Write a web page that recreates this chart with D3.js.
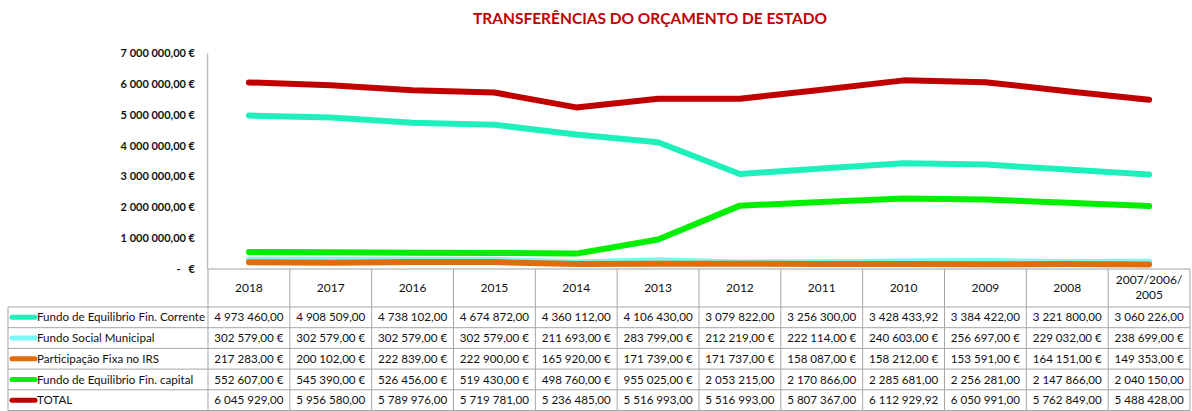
<!DOCTYPE html>
<html>
<head>
<meta charset="utf-8">
<script src="https://cdn.jsdelivr.net/npm/d3@7"></script>
<style>
  body { margin: 0; background: #fff; }
  text { font-family: Lato, "Open Sans", sans-serif; }
</style>
</head>
<body>
<div class="chart"></div>
<script>
const years = ["2018", "2017", "2016", "2015", "2014", "2013", "2012", "2011", "2010", "2009", "2008", "2007/2006/ 2005"];

const seriesNames = ["Fundo de Equilibrio Fin. Corrente", "Fundo Social Municipal", "Participação Fixa no IRS", "Fundo de Equilibrio Fin. capital", "TOTAL"];
const seriesColors = ["#1ef0bc", "#7af7f7", "#e36c0a", "#00f000", "#c00000"];

const fefCorrente = [4973460, 4908509, 4738102, 4674872, 4360112, 4106430, 3079822, 3256300, 3428433.92, 3384422, 3221800, 3060226];
const fundoSocial = [302579, 302579, 302579, 302579, 211693, 283799, 212219, 222114, 240603, 256697, 229032, 238699];
const participacaoIRS = [217283, 200102, 222839, 222900, 165920, 171739, 171737, 158087, 158212, 153591, 164151, 149353];
const fefCapital = [552607, 545390, 526456, 519430, 498760, 955025, 2053215, 2170866, 2285681, 2256281, 2147866, 2040150];
const total = [6045929, 5956580, 5789976, 5719781, 5236485, 5516993, 5516993, 5807367, 6112929.92, 6050991, 5762849, 5488428];

const yTicks = [0, 1000000, 2000000, 3000000, 4000000, 5000000, 6000000, 7000000];

const series = [fefCorrente, fundoSocial, participacaoIRS, fefCapital, total];

const w = 1192, h = 411;
const plotLeft = 208, plotRight = 1190, plotTop = 53, plotBottom = 269;
const rowH = 20.7, headerBottom = 307;

const pt = d3.formatLocale({decimal: ",", thousands: " ", grouping: [3], currency: ["", " €"]});
const money = pt.format("$,.2f");
const num = pt.format(",.2f");
// excel drops the euro sign when the cell is too narrow
const cellText = v => v < 1000000 ? money(v) : num(v);

const svg = d3.select('.chart').append('svg')
  .attr('width', w)
  .attr('height', h);

const x = d3.scaleBand().domain(years).range([plotLeft, plotRight]).padding(0);
const y = d3.scaleLinear().domain([0, 7000000]).range([plotBottom, plotTop]);
const cx = d => x(d) + x.bandwidth() / 2;

svg.append('text')
  .attr('x', 650)
  .attr('y', 24)
  .attr('text-anchor', 'middle')
  .style('font-weight', 'bold')
  .style('font-size', '15.5px')
  .style('fill', '#c00000')
  .text('TRANSFERÊNCIAS DO ORÇAMENTO DE ESTADO');

// y axis
const yAxis = d3.axisLeft(y)
  .tickValues(yTicks)
  .tickSize(0)
  .tickPadding(12)
  .tickFormat(v => v === 0 ? "-   €" : money(v));

svg.append('g')
  .attr('transform', 'translate(' + (plotLeft - 1) + ',0)')
  .call(yAxis)
  .call(g => g.select('.domain').attr('stroke', '#c0c0c0').attr('stroke-width', 1.5))
  .call(g => g.selectAll('text')
    .style('font-size', '11px')
    .style('font-weight', 'bold')
    .style('white-space', 'pre')
    .style('fill', '#111'));

// lines
const line = d3.line()
  .x((d, i) => cx(years[i]))
  .y(d => y(d));

svg.append('g').selectAll('path')
  .data(series)
  .join('path')
  .attr('d', line)
  .attr('fill', 'none')
  .attr('stroke', (d, i) => seriesColors[i])
  .attr('stroke-width', 6)
  .attr('stroke-linecap', 'round')
  .attr('stroke-linejoin', 'round');

// data table
const grid = svg.append('g')
  .attr('stroke', '#a6a6a6')
  .attr('stroke-width', 1);

const tableBottom = headerBottom + rowH * series.length;

// x axis line
grid.append('line')
  .attr('x1', plotLeft - 1).attr('x2', plotRight)
  .attr('y1', plotBottom).attr('y2', plotBottom)
  .attr('stroke', '#c0c0c0').attr('stroke-width', 1.5);

grid.selectAll('.vline')
  .data(years.concat(['end']))
  .join('line')
  .attr('class', 'vline')
  .attr('x1', d => d === 'end' ? plotRight : x(d))
  .attr('x2', d => d === 'end' ? plotRight : x(d))
  .attr('y1', plotBottom)
  .attr('y2', tableBottom);

grid.append('line')
  .attr('x1', 8).attr('x2', 8)
  .attr('y1', headerBottom).attr('y2', tableBottom);

grid.selectAll('.hline')
  .data(d3.range(series.length + 1))
  .join('line')
  .attr('class', 'hline')
  .attr('x1', 8).attr('x2', plotRight)
  .attr('y1', i => headerBottom + i * rowH)
  .attr('y2', i => headerBottom + i * rowH);

// header labels
const head = svg.append('g').selectAll('text')
  .data(years)
  .join('text')
  .attr('x', d => cx(d))
  .attr('text-anchor', 'middle')
  .style('font-size', '12px')
  .style('fill', '#111');

head.each(function(d) {
  const parts = d.split(' ');
  const t = d3.select(this);
  const y0 = parts.length > 1 ? 284 : 292;
  parts.forEach((p, i) => {
    t.append('tspan').attr('x', cx(d)).attr('y', y0 + i * 15).text(p);
  });
});

// rows
const rows = svg.append('g').selectAll('g')
  .data(series)
  .join('g')
  .attr('transform', (d, i) => 'translate(0,' + (headerBottom + i * rowH + rowH / 2) + ')');

rows.append('line')
  .attr('x1', 12).attr('x2', 35)
  .attr('stroke', (d, i) => seriesColors[i])
  .attr('stroke-width', 5)
  .attr('stroke-linecap', 'round');

rows.append('text')
  .attr('x', 37)
  .attr('dy', '0.35em')
  .style('font-size', '11.6px')
  .style('fill', '#111')
  .text((d, i) => seriesNames[i]);

rows.selectAll('.cell')
  .data(d => d)
  .join('text')
  .attr('class', 'cell')
  .attr('x', (d, i) => cx(years[i]))
  .attr('dy', '0.35em')
  .attr('text-anchor', 'middle')
  .style('font-size', '11.6px')
  .style('fill', '#111')
  .text(d => cellText(d));
</script>
</body>
</html>
